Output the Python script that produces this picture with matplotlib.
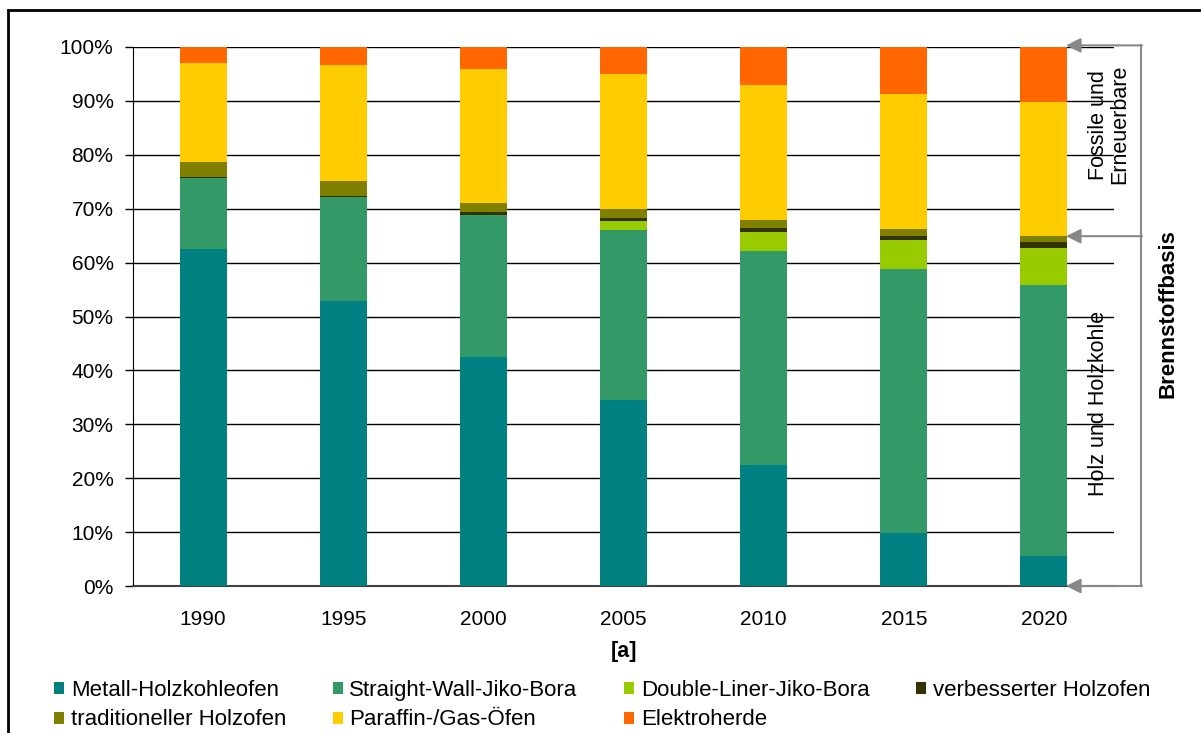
import numpy as np
import matplotlib
matplotlib.use("Agg")
import matplotlib.pyplot as plt
from matplotlib.patches import Patch, Rectangle
import matplotlib.transforms as mtransforms

plt.rcParams['font.family'] = ['Liberation Sans', 'DejaVu Sans']

# shares per stove type [%]
years = ['1990', '1995', '2000', '2005', '2010', '2015', '2020']
metall = [62.5, 52.9, 42.5, 34.5, 22.4, 9.8, 5.6]
straight_wall = [13.2, 19.3, 26.3, 31.5, 39.8, 49.0, 50.2]
double_liner = [0.0, 0.0, 0.0, 1.7, 3.5, 5.4, 6.9]
verbessert = [0.2, 0.2, 0.5, 0.6, 0.7, 0.7, 1.1]
traditionell = [2.8, 2.7, 1.8, 1.6, 1.5, 1.3, 1.1]
paraffin = [18.3, 21.6, 24.8, 25.1, 25.0, 25.1, 24.9]
elektro = [3.0, 3.3, 4.1, 5.0, 7.1, 8.7, 10.2]

series = [metall, straight_wall, double_liner, verbessert, traditionell, paraffin, elektro]
labels = ['Metall-Holzkohleofen', 'Straight-Wall-Jiko-Bora', 'Double-Liner-Jiko-Bora',
          'verbesserter Holzofen', 'traditioneller Holzofen', 'Paraffin-/Gas-Öfen', 'Elektroherde']
colors = ['#008080', '#339966', '#99CC00', '#333300', '#808000', '#FFCC00', '#FF6600']

W, H = 1201, 733
fig = plt.figure(figsize=(W / 100, H / 100), dpi=100)
ax = fig.add_axes([133 / W, 1 - 586 / H, (1114 - 133) / W, (586 - 47) / H])

x = np.arange(len(years))
bottom = np.zeros(len(years))
for vals, col in zip(series, colors):
    ax.bar(x, vals, width=0.335, bottom=bottom, color=col, zorder=3)
    bottom += np.array(vals)

ax.set_xlim(-0.5, len(years) - 0.5)
ax.set_ylim(0, 100)
ax.set_yticks(np.arange(0, 101, 10))
ax.set_yticklabels(['%d%%' % v for v in range(0, 101, 10)])
ax.set_xticks(x)
ax.set_xticklabels(years)
ax.tick_params(axis='y', length=6, width=1, pad=8, labelsize=15)
ax.tick_params(axis='x', length=0, pad=17, labelsize=15)
ax.grid(axis='y', color='black', lw=1, zorder=0)
ax.set_axisbelow(True)
for s in ['top', 'right']:
    ax.spines[s].set_visible(False)
ax.spines['left'].set_color('black')
ax.spines['bottom'].set_color('#404040')
ax.spines['bottom'].set_linewidth(1.5)

ax.set_xlabel('[a]', fontsize=15.5, fontweight='bold')
ax.xaxis.set_label_coords(0.5, -0.102)

# bracket with arrows on the right side
holz_2020 = metall[-1] + straight_wall[-1] + double_liner[-1] + verbessert[-1] + traditionell[-1]
trans = mtransforms.blended_transform_factory(ax.transAxes, ax.transData)
bx = (1141 - 133) / (1114 - 133)
tip = (1066 - 133) / (1114 - 133)
gray = '#888888'
ax.plot([bx, bx], [0, 100.3], transform=trans, color=gray, lw=1.5, clip_on=False)
for yv in [100.3, holz_2020, 0]:
    ax.annotate('', xy=(tip, yv), xycoords=trans, xytext=(bx + 0.001, yv), textcoords=trans,
                arrowprops=dict(arrowstyle='-|>', color=gray, lw=1.5, mutation_scale=22,
                                shrinkA=0, shrinkB=0), annotation_clip=False)

ax.text((1109 - 133) / (1114 - 133), (100.3 + holz_2020) / 2 + 3, 'Fossile und\nErneuerbare',
        transform=trans, rotation=90, ha='center', va='center', fontsize=15.5, linespacing=1.0)
ax.text((1098 - 133) / (1114 - 133), holz_2020 / 2 + 1.5, 'Holz und Holzkohle',
        transform=trans, rotation=90, ha='center', va='center', fontsize=15.5)
ax.text((1168 - 133) / (1114 - 133), 50.5, 'Brennstoffbasis', transform=trans, rotation=90,
        ha='center', va='center', fontsize=16, fontweight='bold')

# legend filled row by row
order = [0, 4, 1, 5, 2, 6, 3]
handles = [Patch(facecolor=colors[i], edgecolor='none') for i in order]
fig.legend(handles, [labels[i] for i in order], ncol=4, loc='upper left',
           bbox_to_anchor=(54 / W, 1 - 680 / H), frameon=False, fontsize=16,
           handlelength=0.45, handleheight=0.45, handletextpad=0.3,
           labelspacing=0.38, columnspacing=2.1, borderpad=0, borderaxespad=0)

# outer frame
fig.add_artist(Rectangle((8 / W, -0.05), 1.2, 1 - 10 / H + 0.05, transform=fig.transFigure,
                         fill=False, edgecolor='black', lw=2))

fig.savefig('out.png', dpi=100)
